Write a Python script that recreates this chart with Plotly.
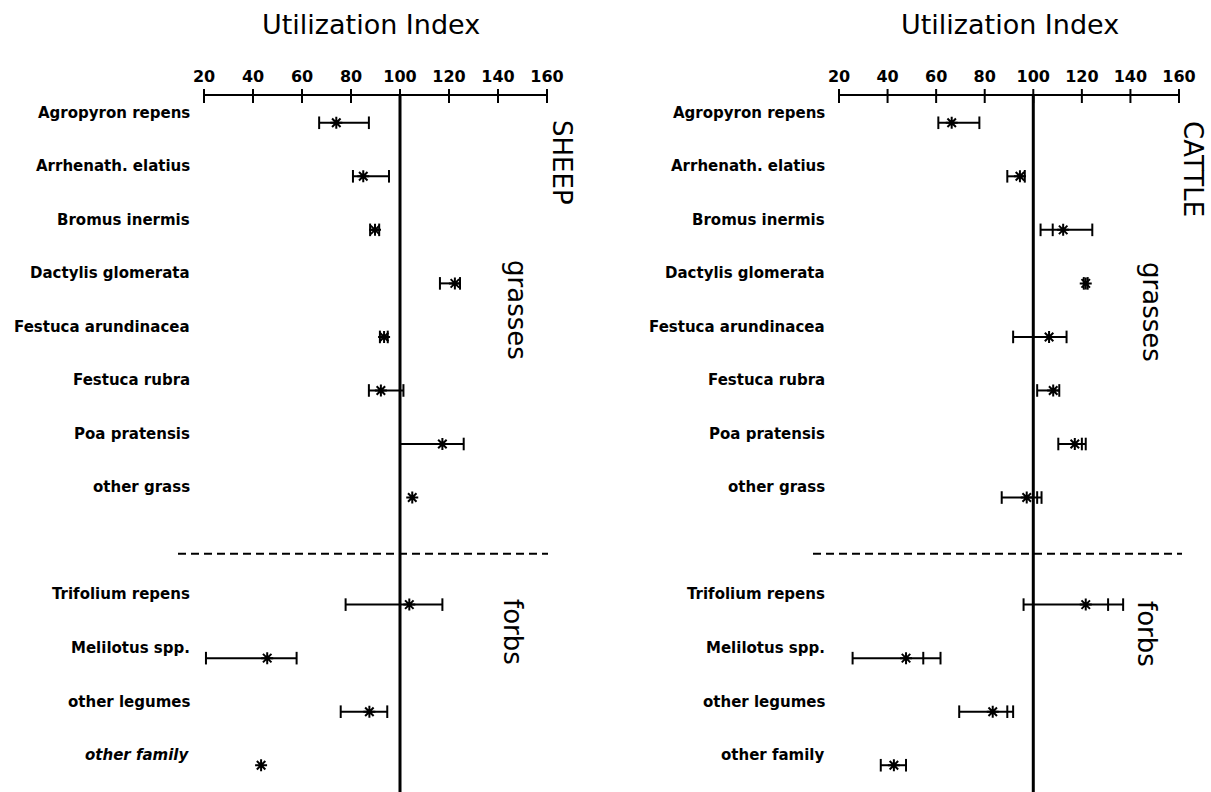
import plotly.graph_objects as go

# ---------------- data ----------------
categories = ["Agropyron repens", "Arrhenath. elatius", "Bromus inermis",
              "Dactylis glomerata", "Festuca arundinacea", "Festuca rubra",
              "Poa pratensis", "other grass",
              "Trifolium repens", "Melilotus spp.", "other legumes", "other family"]
rows = [0, 1, 2, 3, 4, 5, 6, 7, 9, 10, 11, 12]
divider_row = 8.05

sheep_mean = [74, 85, 89.8, 122.4, 93.5, 92.2, 117.3, 105, 103.8, 45.8, 87.5, 43.3]
sheep_low = [67, 80.8, 87.8, 116.3, 91.8, 87.3, 100, None, 77.8, 20.8, 75.8, None]
sheep_high = [87.3, 95.5, 91.5, 124.5, 95, 101.4, 126, None, 117.3, 57.8, 94.8, None]
sheep_tick = [None] * 12

cattle_mean = [66.4, 94.5, 112.3, 121.6, 106.5, 108.2, 117.1, 97.3, 121.6, 47.6, 83.3, 42.6]
cattle_low = [60.9, 89.3, 103, 120.8, 91.7, 101.6, 110.3, 87, 96, 25.6, 69.5, 37.2]
cattle_high = [77.8, 96.5, 124.3, 122.4, 113.7, 110.7, 121.6, 103.4, 137, 61.8, 91.7, 47.6]
cattle_tick = [None, None, 108, None, None, None, 120, 101.6, 130.8, 54.7, 89.3, None]

x_ticks = [20, 40, 60, 80, 100, 120, 140, 160]
x_range = [20, 160]
reference_value = 100

W, H = 1211, 792
TOP = 96
FONT = "DejaVu Sans"
INK = "black"

fig = go.Figure()


def add_panel(mean, low, high, tick, xa, ya):
    bx, by = [], []
    cx, cy = [], []
    for m, lo, hi, r in zip(mean, low, high, rows):
        if lo is None or hi is None:
            continue
        bx += [lo, hi, None]
        by += [r, r, None]
        cx += [lo, hi]
        cy += [r, r]
    fig.add_trace(go.Scatter(x=bx, y=by, mode="lines", xaxis=xa, yaxis=ya,
                             line=dict(color=INK, width=2), showlegend=False,
                             hoverinfo="skip"))
    fig.add_trace(go.Scatter(x=cx, y=cy, mode="markers", xaxis=xa, yaxis=ya,
                             marker=dict(symbol="line-ns-open", size=9, color=INK,
                                         line=dict(color=INK, width=2)),
                             showlegend=False, cliponaxis=False, hoverinfo="skip"))
    tx = [t for t in tick if t is not None]
    ty = [r for t, r in zip(tick, rows) if t is not None]
    fig.add_trace(go.Scatter(x=tx, y=ty, mode="markers", xaxis=xa, yaxis=ya,
                             marker=dict(symbol="line-ns-open", size=9, color=INK,
                                         line=dict(color=INK, width=2)),
                             showlegend=False, cliponaxis=False, hoverinfo="skip"))
    fig.add_trace(go.Scatter(x=[reference_value, reference_value], y=[-0.5, 12.5],
                             mode="lines", xaxis=xa, yaxis=ya,
                             line=dict(color=INK, width=3), showlegend=False,
                             hoverinfo="skip"))
    fig.add_trace(go.Scatter(x=x_ticks, y=[-0.5] * len(x_ticks), mode="markers",
                             xaxis=xa, yaxis=ya,
                             marker=dict(symbol="line-ns-open", size=10, color=INK,
                                         line=dict(color=INK, width=2)),
                             showlegend=False, cliponaxis=False, hoverinfo="skip"))
    fig.add_trace(go.Scatter(x=mean, y=rows, mode="markers", xaxis=xa, yaxis=ya,
                             marker=dict(symbol="asterisk-open", size=10, color=INK,
                                         line=dict(color=INK, width=2)),
                             showlegend=False, cliponaxis=False))


add_panel(sheep_mean, sheep_low, sheep_high, sheep_tick, "x", "y")
add_panel(cattle_mean, cattle_low, cattle_high, cattle_tick, "x2", "y2")

sheep_dom = [204 / W, 547 / W]
cattle_dom = [839 / W, 1179 / W]

axis_common = dict(range=x_range, side="top", showline=True, linecolor=INK,
                   linewidth=2, ticks="", tickvals=x_ticks, automargin=False,
                   tickfont=dict(family=FONT, size=16, color=INK, weight="bold"),
                   showgrid=False, zeroline=False, ticklabelstandoff=6,
                   fixedrange=True)
yaxis_common = dict(range=[12.5, -0.5], visible=False, showgrid=False,
                    zeroline=False, fixedrange=True, automargin=False)

fig.update_layout(
    width=W, height=H, autosize=False,
    margin=dict(l=0, r=0, t=TOP, b=0, pad=0, autoexpand=False),
    paper_bgcolor="white", plot_bgcolor="white",
    xaxis=dict(domain=sheep_dom, anchor="y", **axis_common),
    xaxis2=dict(domain=cattle_dom, anchor="y2", **axis_common),
    yaxis=dict(domain=[0, 1], anchor="x", **yaxis_common),
    yaxis2=dict(domain=[0, 1], anchor="x2", **yaxis_common),
)


def py(pix):
    return (H - pix) / (H - TOP)


annotations = []
shapes = []
for panel, label_right, title_x, side_texts, dash_x in [
    ("sheep", 192, 371, [("SHEEP", 562, 162), ("grasses", 517, 310), ("forbs", 513, 632)], (178, 548)),
    ("cattle", 827, 1010, [("CATTLE", 1193, 169), ("grasses", 1152, 312), ("forbs", 1147, 634)], (813, 1182)),
]:
    yref = "y" if panel == "sheep" else "y2"
    for cat, r in zip(categories, rows):
        italic = panel == "sheep" and cat == "other family"
        annotations.append(dict(
            text=cat, x=label_right / W, xref="paper", xanchor="right",
            y=r - 0.19, yref=yref, yanchor="middle", showarrow=False,
            font=dict(family=FONT, size=15, color=INK, weight="bold",
                      style="italic" if italic else "normal")))
    annotations.append(dict(
        text="Utilization Index", x=title_x / W, xref="paper", xanchor="center",
        y=py(24), yref="paper", yanchor="middle", showarrow=False,
        font=dict(family=FONT, size=27, color=INK)))
    for txt, px_, py_ in side_texts:
        annotations.append(dict(
            text=txt, x=px_ / W, xref="paper", xanchor="center",
            y=py(py_), yref="paper", yanchor="middle", showarrow=False,
            textangle=90, font=dict(family=FONT, size=26, color=INK)))
    shapes.append(dict(type="line", xref="paper", yref="paper",
                       x0=dash_x[0] / W, x1=dash_x[1] / W,
                       y0=(12.5 - divider_row) / 13, y1=(12.5 - divider_row) / 13,
                       line=dict(color=INK, width=2, dash="8px,5px")))

fig.update_layout(annotations=annotations, shapes=shapes)

fig.write_html("out.html")
